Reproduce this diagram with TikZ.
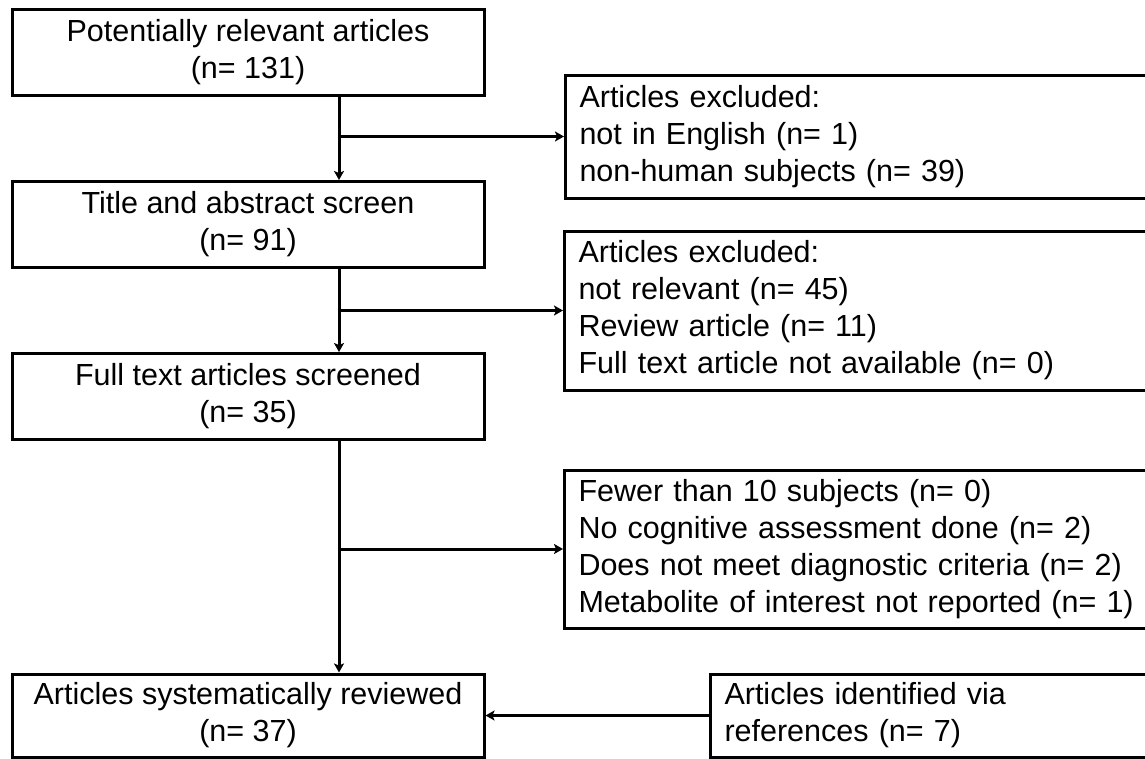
\documentclass[tikz,border=0pt]{standalone}
\usepackage{fontspec}
\setmainfont{Liberation Sans}
\usetikzlibrary{arrows.meta}

\begin{document}
\begin{tikzpicture}[x=1pt,y=-1pt,font=\fontsize{30.5}{37}\selectfont,
    line width=3pt, >={Stealth[length=9pt,width=10pt,inset=2pt]},
    mainbox/.style={draw, rectangle, minimum width=472pt,
      minimum height=86pt, inner sep=0pt, align=center},
    sidebox/.style={draw, rectangle, anchor=west, text width=620pt,
      inner xsep=14pt, inner ysep=0pt, align=left}]
    \useasboundingbox (0,0) rectangle (1145,758);
    \node[mainbox] (P) at (248,52.5) {Potentially relevant articles\\(n= 131)};
    \node[mainbox] (T) at (248,224.5) {Title and abstract screen\\(n= 91)};
    \node[mainbox] (F) at (248,396.5) {Full text articles screened\\(n= 35)};
    \node[mainbox, minimum height=83pt] (A) at (248,715.5)
    {Articles systematically reviewed\\(n= 37)};
    \node[sidebox, minimum height=123pt] (E1) at (564,136.5)
    {Articles excluded:\\not in English (n= 1)\\non-human subjects (n= 39)};
    \node[sidebox, minimum height=159pt] (E2) at (563,310.5)
    {Articles excluded:\\not relevant (n= 45)\\Review article (n= 11)\\Full text article not available (n= 0)};
    \node[sidebox, minimum height=158pt] (E3) at (563,549)
    {Fewer than 10 subjects (n= 0)\\No cognitive assessment done (n= 2)\\Does not meet diagnostic criteria (n= 2)\\Metabolite of interest not reported (n= 1)};
    \node[sidebox, minimum height=83pt] (R) at (709,715.5)
    {Articles identified via\\references (n= 7)};
    \coordinate (S) at (339,0);
    \draw[->] (P.south -| S) -- (T.north -| S); \draw[->] (E1.west -| S) -- (E1.west);
    \draw[->] (T.south -| S) -- (F.north -| S); \draw[->] (E2.west -| S) -- (E2.west);
    \draw[->] (F.south -| S) -- (A.north -| S); \draw[->] (E3.west -| S) -- (E3.west);
    \draw[->] (R.west) -- (A.east);
  \end{tikzpicture}
\end{document}
